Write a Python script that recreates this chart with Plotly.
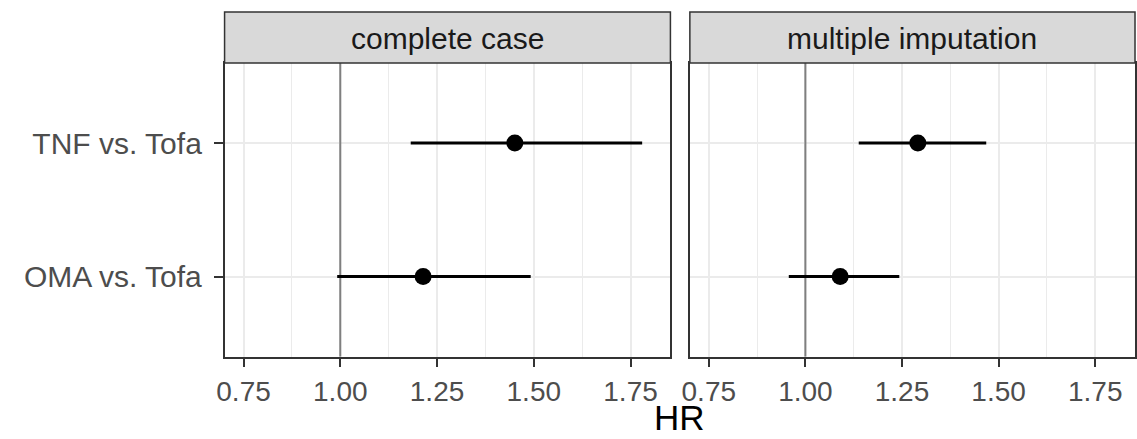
import plotly.graph_objects as go

# ---- data ----
comparisons = ["OMA vs. Tofa", "TNF vs. Tofa"]          # bottom -> top
panels = ["complete case", "multiple imputation"]

cc_hr = [1.214, 1.451]
cc_lo = [0.992, 1.182]
cc_hi = [1.492, 1.780]

mi_hr = [1.090, 1.291]
mi_lo = [0.957, 1.138]
mi_hi = [1.243, 1.468]

x_ticks = [0.75, 1.00, 1.25, 1.50, 1.75]
x_tick_text = ["0.75", "1.00", "1.25", "1.50", "1.75"]
x_minor = [0.875, 1.125, 1.375, 1.625]
ref_hr = 1.0
x_range = [0.701, 1.853]

W, H = 1137, 439
FONT = "Liberation Sans, Arial, sans-serif"

# discrete y positions (ggplot-style: 1..n, expanded by 0.6)
ypos = list(range(1, len(comparisons) + 1))
y_range = [0.4, len(comparisons) + 0.6]

# panel geometry (pixels)
px_left = [(218.3, 667.7), (687.3, 1136.0)]
py_top, py_bot = 63.0, 356.7
strip_top = 12.0

fig = go.Figure()

series = [(cc_hr, cc_lo, cc_hi), (mi_hr, mi_lo, mi_hi)]
for i, (hr, lo, hi) in enumerate(series):
    xa = "x" if i == 0 else "x2"
    ya = "y" if i == 0 else "y2"
    # reference line at HR = 1
    fig.add_trace(go.Scatter(
        x=[ref_hr, ref_hr], y=y_range, xaxis=xa, yaxis=ya, mode="lines",
        line=dict(color="#7F7F7F", width=2), showlegend=False, hoverinfo="skip"))
    fig.add_trace(go.Scatter(
        x=hr, y=ypos, xaxis=xa, yaxis=ya, mode="markers",
        marker=dict(color="black", size=17),
        error_x=dict(type="data", symmetric=False,
                     array=[h - m for h, m in zip(hi, hr)],
                     arrayminus=[m - l for m, l in zip(hr, lo)],
                     width=0, thickness=3, color="black"),
        showlegend=False, hoverinfo="skip"))

dom_y = [1 - py_bot / H, 1 - py_top / H]
common_x = dict(range=x_range, tickvals=x_ticks, ticktext=x_tick_text,
                showgrid=True, gridcolor="#EBEBEB", gridwidth=2,
                minor=dict(tickvals=x_minor, showgrid=True, gridcolor="#EBEBEB", gridwidth=1, ticks=""),
                ticks="outside", ticklen=9, tickwidth=2, tickcolor="#333333",
                showline=True, linecolor="#333333", linewidth=1.5, mirror=True,
                tickfont=dict(family=FONT, size=28, color="#4D4D4D"),
                zeroline=False, fixedrange=True)
common_y = dict(range=y_range, tickvals=ypos, ticktext=comparisons,
                showgrid=True, gridcolor="#EBEBEB", gridwidth=2,
                showline=True, linecolor="#333333", linewidth=1.5, mirror=True,
                zeroline=False, fixedrange=True)

fig.update_layout(
    width=W, height=H, margin=dict(l=0, r=0, t=0, b=0),
    paper_bgcolor="white", plot_bgcolor="white",
    xaxis=dict(domain=[px_left[0][0] / W, px_left[0][1] / W], anchor="y", **common_x),
    xaxis2=dict(domain=[px_left[1][0] / W, px_left[1][1] / W], anchor="y2", **common_x),
    yaxis=dict(domain=dom_y, anchor="x", ticks="outside", ticklen=9, tickwidth=2,
               tickcolor="#333333", ticklabelstandoff=6,
               tickfont=dict(family=FONT, size=30, color="#4D4D4D"),
               **common_y),
    yaxis2=dict(domain=dom_y, anchor="x2", showticklabels=False, ticks="", **common_y),
)

shapes = []
annotations = []
for i, name in enumerate(panels):
    x0, x1 = px_left[i]
    shapes.append(dict(type="rect", xref="paper", yref="paper",
                       x0=x0 / W, x1=x1 / W, y0=1 - py_top / H, y1=1 - strip_top / H,
                       fillcolor="#D9D9D9", line=dict(color="#333333", width=1.5), layer="above"))
    annotations.append(dict(text=name, xref="paper", yref="paper",
                            x=(x0 + x1) / 2 / W, y=1 - 38.5 / H, xanchor="center", yanchor="middle",
                            showarrow=False, font=dict(family=FONT, size=30, color="#1A1A1A")))

annotations.append(dict(text="HR", xref="paper", yref="paper",
                        x=(px_left[0][0] + px_left[1][1]) / 2 / W, y=1 - 417 / H,
                        xanchor="center", yanchor="middle", showarrow=False,
                        font=dict(family=FONT, size=35, color="black")))

fig.update_layout(shapes=shapes, annotations=annotations)
fig.write_html("out.html", config={"displayModeBar": False},
               post_script="document.body.style.margin='0';document.body.style.overflow='hidden';")
